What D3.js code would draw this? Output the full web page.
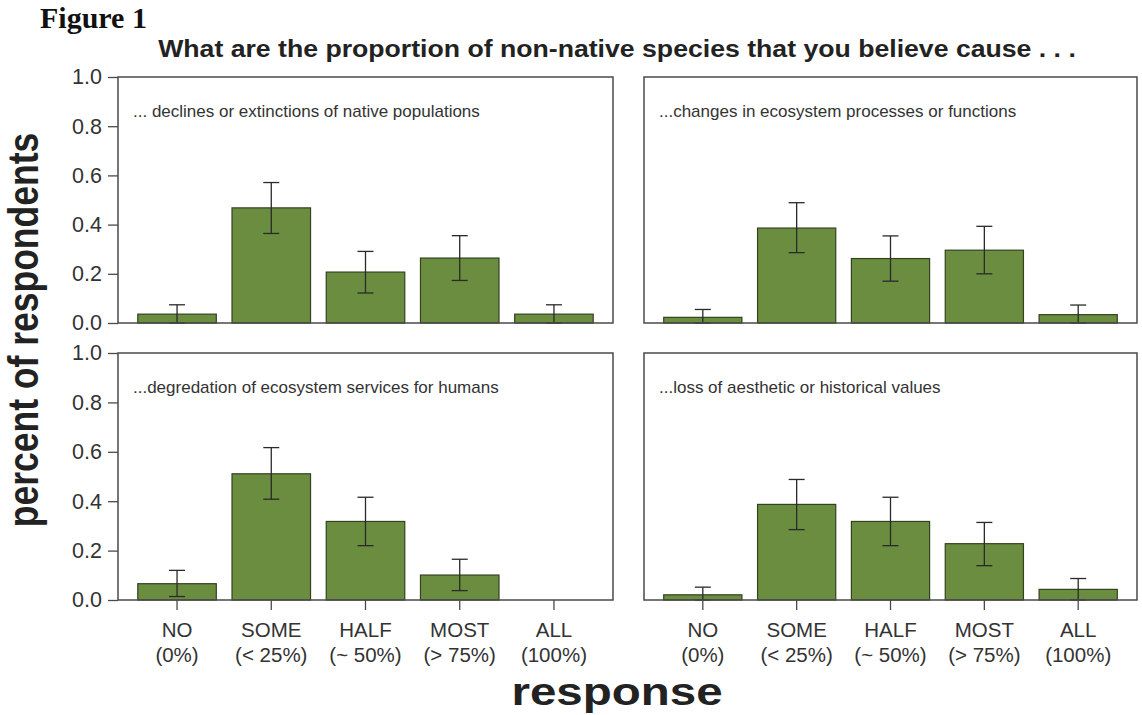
<!DOCTYPE html>
<html>
<head>
<meta charset="utf-8">
<script src="https://cdn.jsdelivr.net/npm/d3@7"></script>
<style>
  html, body { margin: 0; padding: 0; background: #fff; }
  svg text { font-family: "Liberation Sans", Arial, sans-serif; }
</style>
</head>
<body>
<svg id="chart" width="1142" height="715"></svg>
<script>
// Response categories (two-line tick labels)
const categories = ["NO", "SOME", "HALF", "MOST", "ALL"];
const categoryNotes = ["(0%)", "(< 25%)", "(~ 50%)", "(> 75%)", "(100%)"];
const yTicks = [0, 0.2, 0.4, 0.6, 0.8, 1.0];

// Panel captions
const panelTitles = [
  "... declines or extinctions of native populations",
  "...changes in ecosystem processes or functions",
  "...degredation of ecosystem services for humans",
  "...loss of aesthetic or historical values"
];

// Proportion of respondents per category, one array per panel
const declinesValues = [0.036, 0.468, 0.207, 0.264, 0.036];
const declinesLower  = [0.000, 0.364, 0.122, 0.173, 0.000];
const declinesUpper  = [0.074, 0.571, 0.291, 0.355, 0.074];

const changesValues = [0.023, 0.386, 0.262, 0.296, 0.034];
const changesLower  = [0.000, 0.286, 0.170, 0.200, 0.000];
const changesUpper  = [0.055, 0.489, 0.354, 0.393, 0.073];

const servicesValues = [0.066, 0.511, 0.318, 0.101, 0];
const servicesLower  = [0.014, 0.408, 0.220, 0.038, null];
const servicesUpper  = [0.120, 0.617, 0.416, 0.165, null];

const aestheticValues = [0.021, 0.387, 0.318, 0.228, 0.043];
const aestheticLower  = [0.000, 0.285, 0.220, 0.139, 0.000];
const aestheticUpper  = [0.052, 0.488, 0.416, 0.314, 0.087];

const panelData = [
  { values: declinesValues,  lower: declinesLower,  upper: declinesUpper },
  { values: changesValues,   lower: changesLower,   upper: changesUpper },
  { values: servicesValues,  lower: servicesLower,  upper: servicesUpper },
  { values: aestheticValues, lower: aestheticLower, upper: aestheticUpper }
];

const svg = d3.select("#chart");

// Panel frames: [left, right] columns and [top, bottom] rows
const cols = [[118, 613], [644, 1137]];
const rows = [[77, 323], [353, 600]];

const barFill = "#6b8d40";
const barStroke = "#33421f";
const frameColor = "#4a4a4a";
const textColor = "#333";

panelData.forEach((d, i) => {
  const col = i % 2, row = Math.floor(i / 2);
  const [x0, x1] = cols[col];
  const [y0, y1] = rows[row];

  const x = d3.scaleBand()
    .domain(categories)
    .range([x0, x1])
    .paddingInner(0.2 / 1.2)
    .paddingOuter(0.21);
  const y = d3.scaleLinear().domain([0, 1]).range([y1, y0]);

  const g = svg.append("g");

  // bars
  g.selectAll("rect.bar")
    .data(categories.map((c, k) => ({ c, v: d.values[k] })).filter(e => e.v > 0))
    .join("rect")
    .attr("class", "bar")
    .attr("x", e => x(e.c))
    .attr("width", x.bandwidth())
    .attr("y", e => y(e.v))
    .attr("height", e => y(0) - y(e.v))
    .attr("fill", barFill)
    .attr("stroke", barStroke)
    .attr("stroke-width", 1.2);

  // error bars
  const errs = categories.map((c, k) => ({ c, lo: d.lower[k], hi: d.upper[k] }))
    .filter(e => e.lo !== null);
  const eg = g.append("g").attr("stroke", "#2a2a2a").attr("stroke-width", 1.3).attr("fill", "none");
  errs.forEach(e => {
    const cx = x(e.c) + x.bandwidth() / 2;
    eg.append("line").attr("x1", cx).attr("x2", cx).attr("y1", y(e.lo)).attr("y2", y(e.hi));
    eg.append("line").attr("x1", cx - 8).attr("x2", cx + 8).attr("y1", y(e.hi)).attr("y2", y(e.hi));
    eg.append("line").attr("x1", cx - 8).attr("x2", cx + 8).attr("y1", y(e.lo)).attr("y2", y(e.lo));
  });

  // frame
  g.append("rect")
    .attr("x", x0).attr("y", y0)
    .attr("width", x1 - x0).attr("height", y1 - y0)
    .attr("fill", "none")
    .attr("stroke", frameColor)
    .attr("stroke-width", 1.5);

  // caption
  g.append("text")
    .attr("x", x0 + 15)
    .attr("y", y0 + 40)
    .attr("font-size", 17)
    .attr("fill", textColor)
    .text(panelTitles[i]);

  // y axis on the left column
  if (col === 0) {
    const ya = g.append("g")
      .attr("transform", `translate(${x0},0)`)
      .call(d3.axisLeft(y).tickValues(yTicks).tickFormat(d3.format(".1f")).tickSize(10).tickPadding(6));
    ya.select(".domain").remove();
    ya.selectAll("line").attr("stroke", frameColor).attr("stroke-width", 1.3);
    ya.selectAll("text").attr("font-size", 21.5).attr("fill", textColor)
      .attr("font-family", "Liberation Sans, Arial, sans-serif");
  }

  // category axis on the bottom row
  if (row === 1) {
    const xa = g.append("g")
      .attr("transform", `translate(0,${y1})`)
      .call(d3.axisBottom(x).tickSize(10).tickFormat(""));
    xa.select(".domain").remove();
    xa.selectAll("line").attr("stroke", frameColor).attr("stroke-width", 1.3);
    categories.forEach((c, k) => {
      const cx = x(c) + x.bandwidth() / 2;
      const t = g.append("text")
        .attr("x", cx)
        .attr("text-anchor", "middle")
        .attr("font-size", 20.5)
        .attr("fill", textColor);
      t.append("tspan").attr("x", cx).attr("y", y1 + 37).text(c);
      t.append("tspan").attr("x", cx).attr("y", y1 + 62).text(categoryNotes[k]);
    });
  }
});

// figure label
svg.append("text")
  .attr("x", 40).attr("y", 28)
  .style("font-family", "'Liberation Serif', 'DejaVu Serif', serif")
  .attr("font-weight", "bold")
  .attr("font-size", 30)
  .attr("fill", "#111")
  .text("Figure 1");

// overall title
svg.append("text")
  .attr("transform", "translate(617,57) scale(1.12,1)")
  .attr("text-anchor", "middle")
  .attr("font-weight", "bold")
  .attr("font-size", 23.8)
  .attr("fill", "#222")
  .text("What are the proportion of non-native species that you believe cause . . .");

// axis titles
svg.append("text")
  .attr("transform", "translate(38,330) rotate(-90) scale(1,1.2)")
  .attr("text-anchor", "middle")
  .attr("font-weight", "bold")
  .attr("font-size", 35.5)
  .attr("fill", "#222")
  .text("percent of respondents");

svg.append("text")
  .attr("transform", "translate(617,705) scale(1.25,1)")
  .attr("text-anchor", "middle")
  .attr("font-weight", "bold")
  .attr("font-size", 38)
  .attr("fill", "#222")
  .text("response");
</script>
</body>
</html>
